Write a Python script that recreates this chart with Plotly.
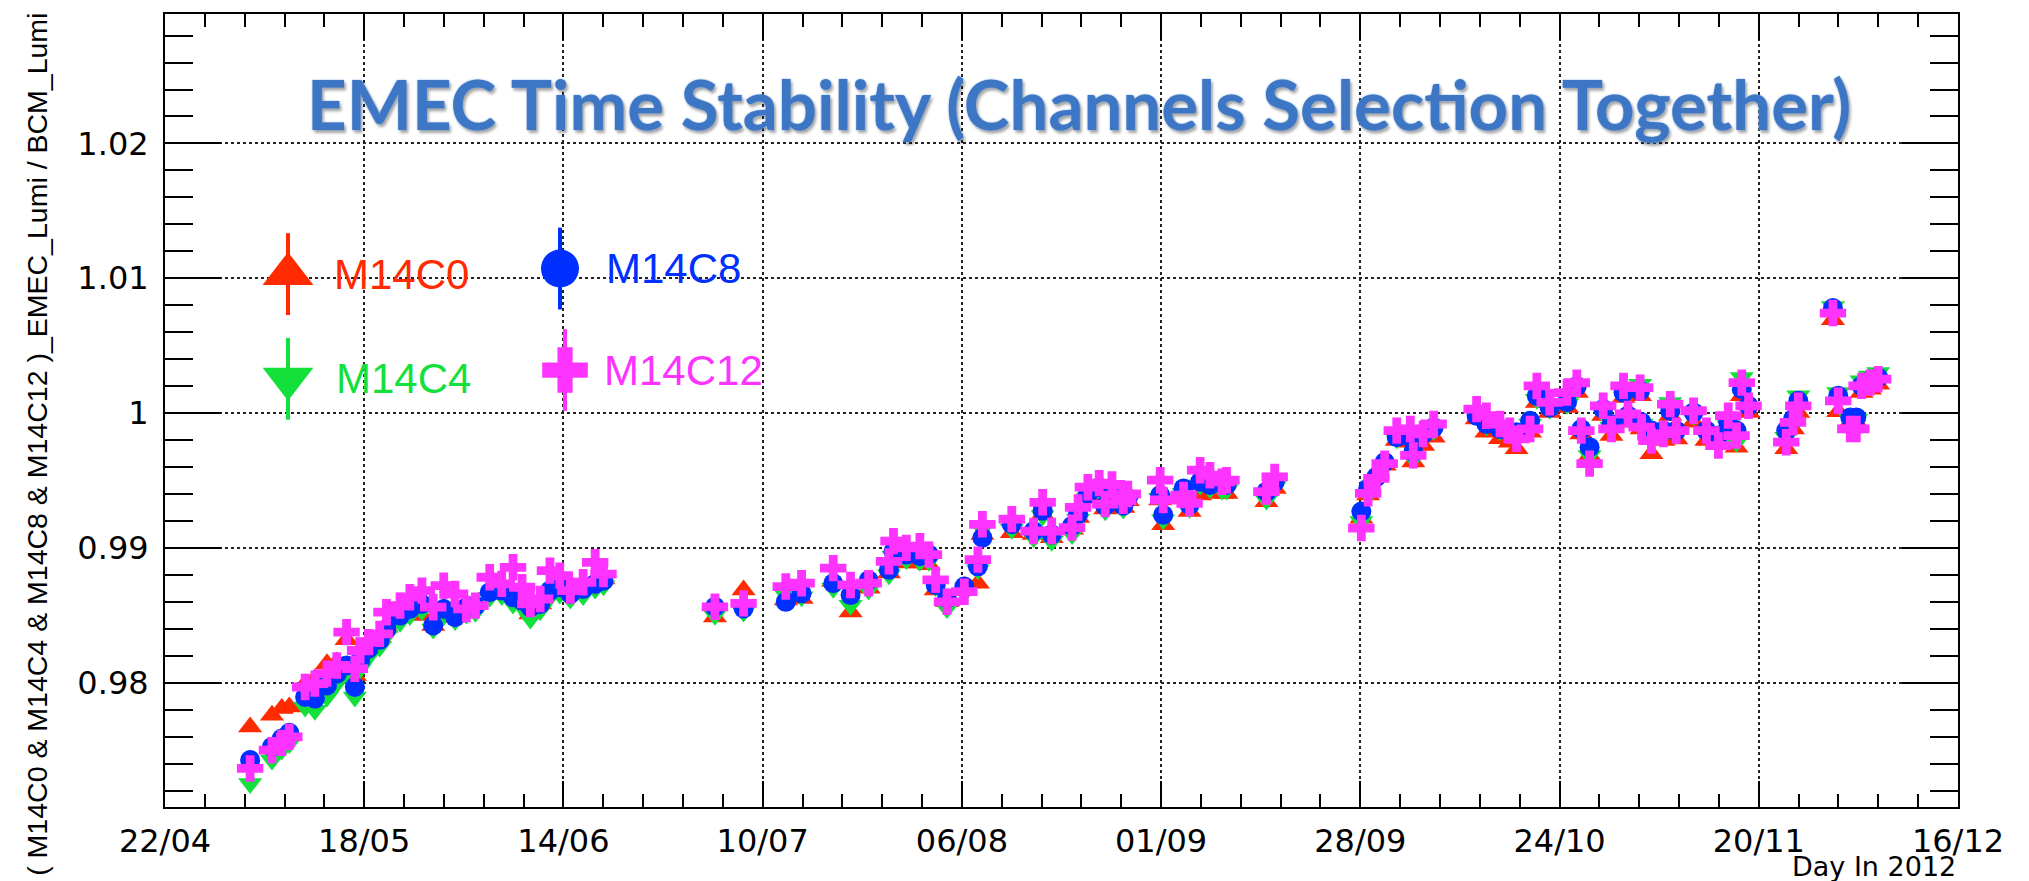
import plotly.graph_objects as go

# ---------------- data ----------------
# x = day of year 2012, y = (channel)_EMEC_Lumi / BCM_Lumi
run_day = [
    124.3, 127.2, 128.5, 129.5, 131.6, 132.9, 134.5, 135.8, 137.1, 138.2, 138.9, 140.0,
    141.5, 142.4, 144.2, 145.5, 147.1, 148.6, 150.0, 151.5, 153.0, 154.2, 156.1, 157.7,
    159.2, 160.4, 161.5, 162.8, 164.1, 165.4, 166.8, 168.5, 170.1, 171.2,
    186.0, 189.8, 195.4, 197.5, 201.7, 204.0, 206.4, 209.1, 209.7, 211.4, 213.2, 214.4,
    215.3, 216.8, 219.1, 220.9, 221.5, 225.4, 228.3, 229.5, 230.7, 233.4, 234.2, 235.5,
    237.0, 237.8, 238.7, 240.2, 240.8,
    245.1, 245.5, 248.2, 249.0, 250.4, 251.7, 253.3, 253.9, 259.2, 260.3, 271.8, 272.7,
    273.8, 274.9, 276.5, 278.3, 278.7, 280.0, 281.4, 287.1, 288.4, 290.2, 291.5, 292.4,
    294.2, 295.1, 296.8, 299.1, 300.4, 301.0, 302.1,
    303.9, 305.0, 306.6, 307.2, 308.8, 309.0, 310.3, 311.9, 312.8, 313.6, 315.9, 317.6,
    319.2, 320.5, 321.6, 322.3, 323.2, 328.2, 329.1, 329.8, 334.4, 335.1, 336.7, 337.5,
    338.2, 339.3, 340.4,
]

m14c0 = [
    0.97672, 0.97758, 0.97808, 0.97820, 0.97993, 0.98030, 0.98141, 0.98153, 0.98318, 0.98054, 0.98190, 0.98264,
    0.98338, 0.98412, 0.98510, 0.98535, 0.98498, 0.98424, 0.98560, 0.98486, 0.98560, 0.98584, 0.98683, 0.98695,
    0.98646, 0.98609, 0.98510, 0.98584, 0.98708, 0.98720, 0.98658, 0.98695, 0.98745, 0.98769,
    0.98488, 0.98688, 0.98613, 0.98625, 0.98750, 0.98525, 0.98700, 0.98813, 0.98925, 0.98888, 0.98888, 0.98875,
    0.98688, 0.98600, 0.98713, 0.98738, 0.99100, 0.99113, 0.99100, 0.99250, 0.99075, 0.99138, 0.99225, 0.99380,
    0.99420, 0.99288, 0.99400, 0.99300, 0.99350,
    0.99355, 0.99172, 0.99368, 0.99270, 0.99392, 0.99441, 0.99404, 0.99404, 0.99343, 0.99441, 0.99220, 0.99392,
    0.99539, 0.99612, 0.99796, 0.99784, 0.99637, 0.99760, 0.99821, 0.99956, 0.99858, 0.99809, 0.99784, 0.99735,
    0.99858, 1.00078, 1.00004, 1.00041, 1.00152, 0.99845, 0.99686,
    0.99981, 0.99833, 1.00116, 0.99931, 1.00128, 0.99882, 0.99698, 0.99796, 0.99981, 0.99808, 0.99931, 0.99796,
    0.99796, 0.99882, 0.99747, 1.00128, 1.00005, 0.99735, 0.99882, 1.00005, 1.00693, 1.00010, 0.99931, 0.99931,
    1.00152, 1.00177, 1.00214,
]

m14c4 = [
    0.97253, 0.97426, 0.97500, 0.97549, 0.97820, 0.97795, 0.97894, 0.97993, 0.98067, 0.97894, 0.98104, 0.98190,
    0.98264, 0.98350, 0.98449, 0.98498, 0.98535, 0.98399, 0.98498, 0.98461, 0.98510, 0.98523, 0.98634, 0.98646,
    0.98584, 0.98560, 0.98473, 0.98535, 0.98634, 0.98658, 0.98621, 0.98646, 0.98695, 0.98720,
    0.98500, 0.98525, 0.98650, 0.98638, 0.98700, 0.98575, 0.98688, 0.98800, 0.98938, 0.98913, 0.98900, 0.98900,
    0.98713, 0.98550, 0.98663, 0.98838, 0.99138, 0.99138, 0.99075, 0.99238, 0.99050, 0.99100, 0.99213, 0.99370,
    0.99420, 0.99275, 0.99400, 0.99288, 0.99340,
    0.99368, 0.99208, 0.99404, 0.99294, 0.99466, 0.99441, 0.99429, 0.99429, 0.99355, 0.99453, 0.99196, 0.99392,
    0.99490, 0.99600, 0.99809, 0.99796, 0.99661, 0.99821, 0.99870, 0.99992, 0.99906, 0.99870, 0.99845, 0.99821,
    0.99919, 1.00103, 1.00029, 1.00066, 1.00176, 0.99858, 0.99686,
    1.00005, 0.99895, 1.00177, 0.99968, 1.00214, 0.99919, 0.99833, 0.99833, 1.00079, 0.99845, 0.99981, 0.99845,
    0.99808, 0.99907, 0.99784, 1.00263, 1.00030, 0.99821, 0.99919, 1.00128, 1.00791, 1.00152, 0.99956, 0.99956,
    1.00240, 1.00275, 1.00300,
]

m14c8 = [
    0.97426, 0.97524, 0.97586, 0.97628, 0.97894, 0.97882, 0.97980, 0.98067, 0.98128, 0.97968, 0.98165, 0.98252,
    0.98318, 0.98399, 0.98498, 0.98547, 0.98584, 0.98424, 0.98547, 0.98486, 0.98560, 0.98572, 0.98671, 0.98683,
    0.98634, 0.98609, 0.98560, 0.98584, 0.98683, 0.98708, 0.98658, 0.98695, 0.98733, 0.98757,
    0.98563, 0.98550, 0.98600, 0.98663, 0.98738, 0.98650, 0.98760, 0.98838, 0.98975, 0.98950, 0.98938, 0.98950,
    0.98725, 0.98625, 0.98713, 0.98863, 0.99075, 0.99175, 0.99125, 0.99275, 0.99100, 0.99163, 0.99250, 0.99400,
    0.99450, 0.99313, 0.99420, 0.99313, 0.99370,
    0.99392, 0.99245, 0.99441, 0.99319, 0.99490, 0.99466, 0.99478, 0.99466, 0.99417, 0.99490, 0.99270, 0.99441,
    0.99527, 0.99637, 0.99821, 0.99821, 0.99710, 0.99845, 0.99894, 0.99980, 0.99919, 0.99882, 0.99858, 0.99858,
    0.99943, 1.00127, 1.00041, 1.00080, 1.00200, 0.99882, 0.99747,
    1.00030, 0.99919, 1.00152, 0.99981, 1.00165, 0.99931, 0.99870, 0.99870, 1.00017, 0.99870, 1.00005, 0.99870,
    0.99833, 0.99931, 0.99870, 1.00177, 1.00054, 0.99870, 0.99956, 1.00091, 1.00779, 1.00128, 0.99968, 0.99968,
    1.00202, 1.00240, 1.00263,
]

m14c12 = [
    0.97364, 0.97500, 0.97554, 0.97598, 0.97968, 0.97993, 0.98067, 0.98128, 0.98375, 0.98104, 0.98239, 0.98301,
    0.98362, 0.98523, 0.98572, 0.98634, 0.98683, 0.98560, 0.98720, 0.98658, 0.98547, 0.98572, 0.98782, 0.98733,
    0.98856, 0.98708, 0.98584, 0.98621, 0.98831, 0.98794, 0.98683, 0.98745, 0.98893, 0.98806,
    0.98563, 0.98588, 0.98713, 0.98738, 0.98850, 0.98725, 0.98738, 0.98900, 0.99050, 0.99000, 0.99013, 0.98950,
    0.98763, 0.98600, 0.98675, 0.98913, 0.99175, 0.99213, 0.99125, 0.99338, 0.99125, 0.99150, 0.99300, 0.99450,
    0.99480, 0.99325, 0.99470, 0.99350, 0.99400,
    0.99502, 0.99355, 0.99392, 0.99331, 0.99576, 0.99539, 0.99490, 0.99502, 0.99417, 0.99527, 0.99147, 0.99404,
    0.99515, 0.99625, 0.99870, 0.99882, 0.99686, 0.99845, 0.99919, 1.00029, 0.99980, 0.99919, 0.99870, 0.99809,
    0.99882, 1.00201, 1.00080, 1.00152, 1.00225, 0.99870, 0.99625,
    1.00054, 0.99882, 1.00202, 0.99993, 1.00189, 0.99895, 0.99796, 0.99845, 1.00066, 0.99870, 1.00017, 0.99870,
    0.99759, 0.99981, 0.99833, 1.00226, 1.00054, 0.99784, 0.99931, 1.00054, 1.00742, 1.00091, 0.99882, 0.99882,
    1.00202, 1.00226, 1.00251,
]

series_names = ["M14C0", "M14C4", "M14C8", "M14C12"]
x_tick_labels = ["22/04", "18/05", "14/06", "10/07", "06/08", "01/09",
                 "28/09", "24/10", "20/11", "16/12"]
y_tick_values = [0.98, 0.99, 1.00, 1.01, 1.02]
y_tick_labels = ["0.98", "0.99", "1", "1.01", "1.02"]

title_text = "EMEC Time Stability (Channels Selection Together)"
y_title = "( M14C0 &amp; M14C4 &amp; M14C8 &amp; M14C12 )_EMEC_Lumi / BCM_Lumi"
x_title = "Day In 2012"

# ---------------- styles / layout ----------------
X_RANGE = [113.0, 351.0]          # 22/04 .. 16/12 (day of year)
Y_RANGE = [0.97078, 1.02960]
N_DIV = len(x_tick_labels) - 1
x_tick_pos = [X_RANGE[0] + i * (X_RANGE[1] - X_RANGE[0]) / N_DIV for i in range(N_DIV + 1)]

COLORS = {"M14C0": "#ff2a00", "M14C4": "#14e03c", "M14C8": "#0030ff", "M14C12": "#ff33ff"}
SYMBOLS = {"M14C0": "triangle-up", "M14C4": "triangle-down", "M14C8": "circle", "M14C12": "cross"}
SIZES = {"M14C0": 21, "M14C4": 21, "M14C8": 20, "M14C12": 22}
LEG_SIZES = {"M14C0": 44, "M14C4": 44, "M14C8": 38, "M14C12": 38}
# legend symbol / text placement (fraction of the plot frame)
LEG_POS = {"M14C0": (0.0686, 0.672, 0.0931),
           "M14C4": (0.0686, 0.540, 0.0943),
           "M14C8": (0.2203, 0.679, 0.2448),
           "M14C12": (0.2231, 0.551, 0.2437)}
LEG_BAR = 0.0516

values = {"M14C0": m14c0, "M14C4": m14c4, "M14C8": m14c8, "M14C12": m14c12}

fig = go.Figure()
for name in series_names:
    fig.add_trace(go.Scatter(
        x=run_day, y=values[name], mode="markers", name=name, showlegend=False,
        marker=dict(symbol=SYMBOLS[name], size=SIZES[name], color=COLORS[name],
                    line=dict(width=0)),
        hoverinfo="x+y+name",
    ))

# custom legend (symbols with error bars) on an overlay frame axis
for name in ["M14C0", "M14C8", "M14C4", "M14C12"]:
    lx, ly, tx = LEG_POS[name]
    fig.add_trace(go.Scatter(
        x=[lx], y=[ly], xaxis="x2", yaxis="y2", mode="markers", showlegend=False,
        hoverinfo="skip",
        marker=dict(symbol=SYMBOLS[name], size=LEG_SIZES[name], color=COLORS[name],
                    line=dict(width=0)),
        error_y=dict(type="data", array=[LEG_BAR], visible=True, thickness=4,
                     width=0, color=COLORS[name]),
    ))

annotations = []
for name in series_names:
    lx, ly, tx = LEG_POS[name]
    annotations.append(dict(
        x=tx, y=ly, xref="paper", yref="paper", xanchor="left", yanchor="middle",
        text=name, showarrow=False,
        font=dict(family="Liberation Sans, Arial, sans-serif", size=42, color=COLORS[name])))

annotations.append(dict(
    x=0.5095, y=0.887, xref="paper", yref="paper", xanchor="center", yanchor="middle",
    text="<b>" + title_text + "</b>", showarrow=False,
    font=dict(family="Lato, Liberation Sans, sans-serif",
              size=69, color="#3d76c4",
              shadow="0px 0px 2px #7fa8de, 2px 3px 3px rgba(0,0,0,0.35)")))

annotations.append(dict(
    x=-0.0714, y=0.458, xref="paper", yref="paper", xanchor="center", yanchor="middle",
    text=y_title, textangle=-90, showarrow=False,
    font=dict(family="Liberation Sans, Arial, sans-serif", size=28.5, color="black")))

annotations.append(dict(
    x=1.0, y=-0.075, xref="paper", yref="paper", xanchor="right", yanchor="middle",
    text=x_title, showarrow=False,
    font=dict(family="DejaVu Sans, sans-serif", size=27, color="black")))

tick_font = dict(family="DejaVu Sans, sans-serif", size=32, color="black")

fig.update_layout(
    width=2029, height=881,
    margin=dict(l=165, r=71, t=12, b=74, pad=0),
    paper_bgcolor="white", plot_bgcolor="white",
    showlegend=False,
    annotations=annotations,
    xaxis=dict(
        range=X_RANGE, tickmode="array", tickvals=x_tick_pos, ticktext=x_tick_labels,
        ticks="inside", ticklen=26, tickwidth=2, tickcolor="black",
        showline=True, linewidth=2, linecolor="black", mirror="ticks",
        showgrid=True, gridcolor="#222222", griddash="dot", gridwidth=1.5,
        zeroline=False, tickfont=tick_font, ticklabelstandoff=5,
        minor=dict(tickmode="linear", tick0=X_RANGE[0], dtick=(X_RANGE[1] - X_RANGE[0]) / (N_DIV * 5),
                   ticks="inside", ticklen=13, tickwidth=2, tickcolor="black", showgrid=False),
    ),
    yaxis=dict(
        range=Y_RANGE, tickmode="array", tickvals=y_tick_values, ticktext=y_tick_labels,
        ticks="inside", ticklen=56, tickwidth=2, tickcolor="black",
        showline=True, linewidth=2, linecolor="black", mirror="ticks",
        showgrid=True, gridcolor="#222222", griddash="dot", gridwidth=1.5,
        zeroline=False, tickfont=tick_font, ticklabelstandoff=8,
        minor=dict(tickmode="linear", tick0=0.97, dtick=0.002,
                   ticks="inside", ticklen=28, tickwidth=2, tickcolor="black", showgrid=False),
    ),
    xaxis2=dict(overlaying="x", range=[0, 1], visible=False, fixedrange=True),
    yaxis2=dict(overlaying="y", range=[0, 1], visible=False, fixedrange=True),
)

fig.write_html("out.html")
